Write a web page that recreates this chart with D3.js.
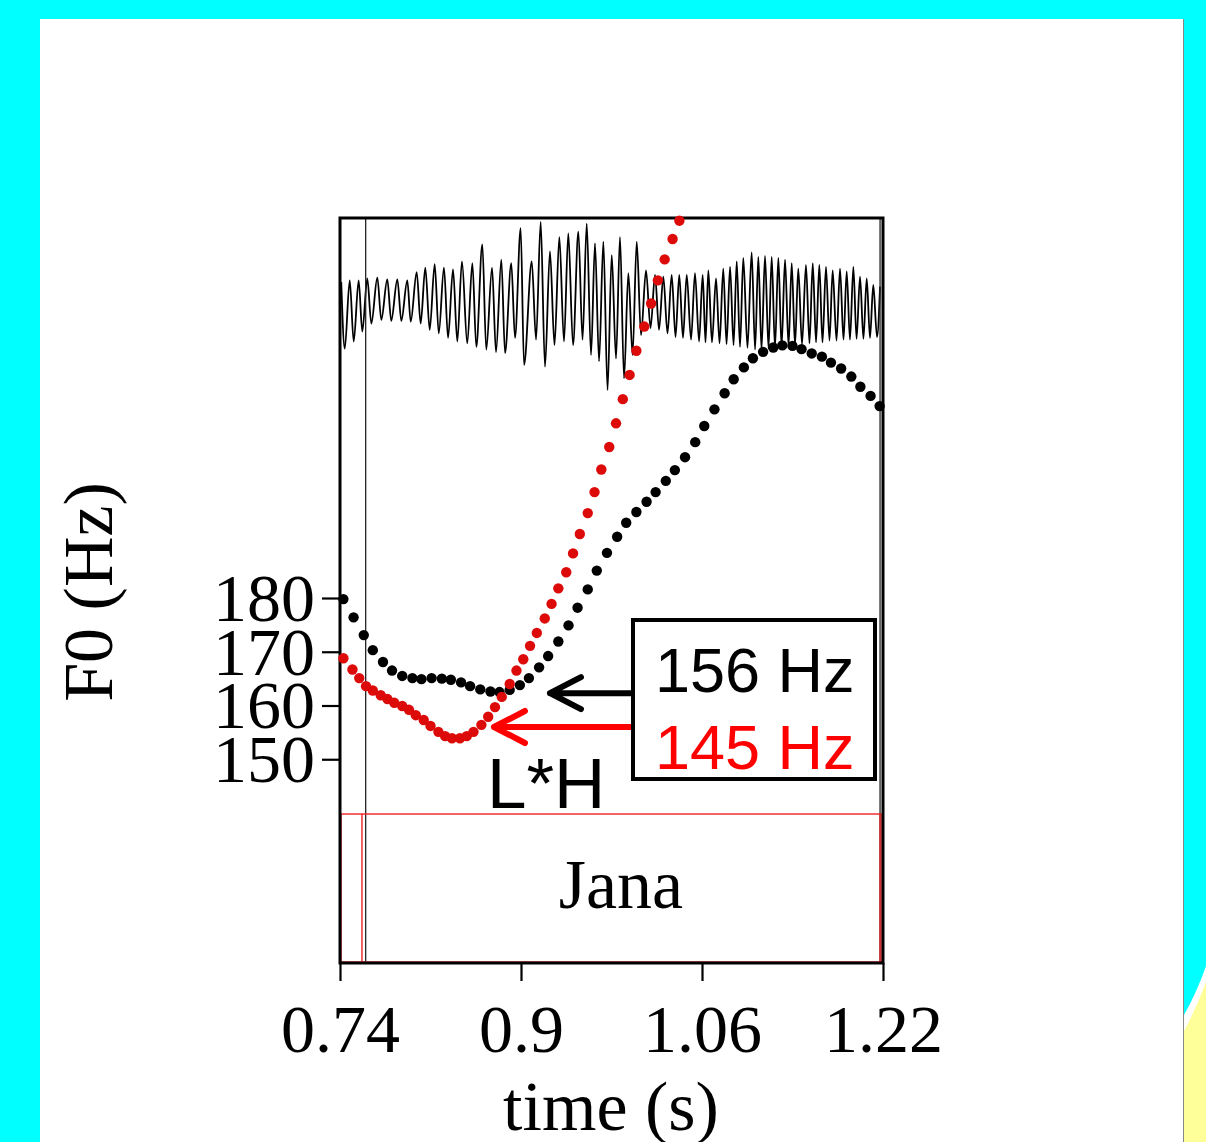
<!DOCTYPE html>
<html>
<head>
<meta charset="utf-8">
<script src="https://cdn.jsdelivr.net/npm/d3@7"></script>
<style>
  body { margin: 0; background: #00ffff; }
  svg { display: block; }
</style>
</head>
<body>
<svg width="1206" height="1142"></svg>
<script>
// pitch track, black contour (time s, F0 Hz)
const blackTimes = [0.743,0.752,0.761,0.769,0.778,0.786,0.795,0.804,0.812,0.821,0.830,0.838,0.847,0.855,0.864,0.873,0.881,0.890,0.899,0.907,0.916,0.924,0.933,0.942,0.950,0.959,0.967,0.976,0.985,0.993,1.002,1.011,1.019,1.028,1.036,1.045,1.054,1.062,1.071,1.080,1.088,1.097,1.105,1.114,1.123,1.131,1.140,1.148,1.157,1.166,1.174,1.183,1.192,1.200,1.209,1.217];
const blackHz = [179.8,176.4,173.1,170.3,168.1,166.5,165.5,165.1,164.9,165.1,165.0,164.8,164.3,163.6,163.0,162.6,162.5,162.9,163.8,165.1,167.1,169.2,171.9,174.9,178.2,181.6,185.1,188.4,191.4,194.0,196.0,197.9,199.7,201.8,203.8,206.2,209.0,212.0,215.1,218.1,220.7,222.9,224.6,225.8,226.6,227.0,226.9,226.3,225.5,224.9,223.8,222.7,221.2,219.3,217.6,215.7];

// pitch track, red contour
const redTimes = [0.743,0.751,0.757,0.763,0.769,0.776,0.782,0.788,0.795,0.801,0.807,0.814,0.820,0.827,0.833,0.839,0.846,0.852,0.858,0.865,0.871,0.877,0.883,0.890,0.896,0.902,0.908,0.914,0.921,0.927,0.933,0.940,0.946,0.952,0.959,0.965,0.971,0.978,0.984,0.990,0.996,1.002,1.009,1.015,1.021,1.027,1.034,1.040];
const redHz = [168.8,166.7,165.1,163.6,162.8,161.9,161.2,160.5,159.9,159.2,158.2,157.3,156.2,155.1,154.3,153.9,153.9,154.3,155.1,156.4,157.9,159.7,161.6,164.0,166.5,168.6,171.1,173.5,176.2,178.9,181.8,184.8,188.3,191.9,195.8,199.7,203.9,208.1,212.5,217.0,221.5,226.0,230.5,234.8,239.1,243.0,246.8,250.2];

// waveform extremes (time s, amplitude)
const waveTimes = [0.7411,0.7442,0.7486,0.7521,0.7565,0.7597,0.7641,0.7677,0.7730,0.7765,0.7818,0.7853,0.7907,0.7942,0.7995,0.8025,0.8078,0.8113,0.8154,0.8193,0.8237,0.8273,0.8319,0.8355,0.8399,0.8437,0.8478,0.8525,0.8570,0.8605,0.8658,0.8693,0.8744,0.8779,0.8826,0.8859,0.8914,0.8947,0.8997,0.9027,0.9095,0.9133,0.9174,0.9212,0.9256,0.9296,0.9339,0.9380,0.9418,0.9460,0.9507,0.9544,0.9581,0.9619,0.9654,0.9690,0.9728,0.9765,0.9802,0.9840,0.9875,0.9911,0.9949,0.9986,1.0023,1.0061,1.0105,1.0145,1.0185,1.0220,1.0258,1.0295,1.0332,1.0366,1.0399,1.0432,1.0465,1.0503,1.0538,1.0574,1.0606,1.0631,1.0656,1.0688,1.0724,1.0755,1.0788,1.0817,1.0848,1.0879,1.0907,1.0936,1.0965,1.1002,1.1039,1.1069,1.1098,1.1126,1.1157,1.1188,1.1216,1.1245,1.1275,1.1303,1.1334,1.1365,1.1393,1.1422,1.1451,1.1484,1.1519,1.1550,1.1579,1.1608,1.1637,1.1665,1.1696,1.1727,1.1755,1.1789,1.1820,1.1851,1.1879,1.1908,1.1938,1.1966,1.1997,1.2027,1.2056,1.2085,1.2114,1.2147,1.2174];
const waveAmps = [0.31,-0.43,0.33,-0.35,0.33,-0.24,0.35,-0.15,0.36,-0.11,0.34,-0.12,0.34,-0.12,0.33,-0.13,0.42,-0.15,0.47,-0.22,0.51,-0.26,0.47,-0.31,0.45,-0.35,0.54,-0.37,0.52,-0.41,0.73,-0.44,0.47,-0.47,0.56,-0.48,0.52,-0.31,0.91,-0.61,0.54,-0.33,0.98,-0.63,0.65,-0.39,0.81,-0.35,0.85,-0.39,0.87,-0.33,0.96,-0.50,0.74,-0.57,0.76,-0.89,0.61,-0.54,0.81,-0.76,0.41,-0.50,0.76,-0.28,0.44,-0.20,0.39,-0.22,0.37,-0.26,0.39,-0.30,0.39,-0.31,0.39,-0.33,0.41,-0.35,0.39,-0.36,0.44,-0.36,0.35,-0.37,0.46,-0.38,0.48,-0.39,0.54,-0.41,0.58,-0.42,0.64,-0.44,0.59,-0.44,0.60,-0.43,0.59,-0.42,0.58,-0.41,0.56,-0.40,0.52,-0.39,0.46,-0.38,0.50,-0.37,0.52,-0.36,0.50,-0.36,0.48,-0.34,0.44,-0.34,0.46,-0.33,0.43,-0.33,0.48,-0.32,0.37,-0.32,0.35,-0.31,0.28,-0.30,0.26];

// textgrid tier
const tierBounds = [0.7594, 1.2174];
const tierLabels = ["Jana"];
const markTimes = [0.7627, 1.2174];

const xTicks = [0.74, 0.9, 1.06, 1.22];
const yTicks = [150, 160, 170, 180];

// annotation: box values and arrow targets
const boxLabels = ["156 Hz", "145 Hz"];
const arrowHz = [162.3, 156.0];
const arrowTipTimes = [0.9256, 0.8761];
const boxTime = 0.999;

const svg = d3.select("svg");

// white sheet + corner decoration
svg.append("rect").attr("x", 40).attr("y", 19).attr("width", 1143).attr("height", 1123).attr("fill", "#fff");
svg.append("path").attr("d", "M1184,1015 Q1197,992 1206,966 L1206,1142 L1184,1142 Z").attr("fill", "#fff");
svg.append("path").attr("d", "M1184,1031 Q1197,1007 1206,982 L1206,1142 L1184,1142 Z").attr("fill", "#ffff99");
svg.append("line").attr("x1", 1183.5).attr("x2", 1183.5).attr("y1", 19).attr("y2", 1142).attr("stroke", "#888").attr("stroke-width", 1);

const plotLeft = 340, plotTop = 218, W = 543, H = 745, pitchH = 595;
const g = svg.append("g").attr("transform", `translate(${plotLeft},${plotTop})`);

const x = d3.scaleLinear().domain([0.74, 1.22]).range([0, W]);
const y = d3.scaleLinear().domain([140, 250.7]).range([pitchH, 0]);
const yWave = d3.scaleLinear().domain([-1, 1]).range([182, 2]);

const serif = "'Liberation Serif', 'Times New Roman', serif";
const sans = "'Liberation Sans', Arial, sans-serif";

// waveform
const wave = waveTimes.map((t, i) => ({t, a: waveAmps[i]}));
g.append("path")
    .datum(wave)
    .attr("fill", "none")
    .attr("stroke", "#000")
    .attr("stroke-width", 1.8)
    .attr("stroke-linejoin", "bevel")
    .attr("d", d3.line().x(d => x(d.t)).y(d => yWave(d.a)).curve(d3.curveMonotoneX));

// vertical marks
g.selectAll(".mark")
    .data(markTimes)
    .join("line")
    .attr("x1", d => x(d)).attr("x2", d => x(d))
    .attr("y1", 0).attr("y2", H)
    .attr("stroke", "#222")
    .attr("stroke-width", 1.3);

// textgrid tier
g.append("rect")
    .attr("x", 1).attr("y", pitchH + 1)
    .attr("width", W - 2).attr("height", H - pitchH - 2)
    .attr("fill", "none").attr("stroke", "#e22").attr("stroke-width", 1.4);
g.selectAll(".bound")
    .data(tierBounds)
    .join("line")
    .attr("x1", d => x(d)).attr("x2", d => x(d))
    .attr("y1", pitchH + 1).attr("y2", H - 1)
    .attr("stroke", "#e22").attr("stroke-width", 1.4);
g.selectAll(".tier-label")
    .data(tierLabels)
    .join("text")
    .attr("x", (d, i) => (x(tierBounds[i]) + x(tierBounds[i + 1])) / 2)
    .attr("y", 690)
    .attr("text-anchor", "middle")
    .style("font-family", serif)
    .style("font-size", "70px")
    .text(d => d);

// frame
g.append("rect")
    .attr("width", W).attr("height", H)
    .attr("fill", "none").attr("stroke", "#000").attr("stroke-width", 3);

// pitch dots
const black = blackTimes.map((t, i) => ({t, hz: blackHz[i]}));
const red = redTimes.map((t, i) => ({t, hz: redHz[i]}));
g.append("g").selectAll("circle")
    .data(black).join("circle")
    .attr("cx", d => x(d.t)).attr("cy", d => y(d.hz)).attr("r", 5.2)
    .attr("fill", "#000");
g.append("g").selectAll("circle")
    .data(red).join("circle")
    .attr("cx", d => x(d.t)).attr("cy", d => y(d.hz)).attr("r", 5.2)
    .attr("fill", "#dd0a0a");

// axes
const xAxis = g.append("g")
    .attr("transform", `translate(0,${H})`)
    .call(d3.axisBottom(x).tickValues(xTicks).tickSize(18).tickFormat(d => String(d)));
xAxis.select(".domain").remove();
xAxis.selectAll("line").attr("stroke-width", 2.2);
xAxis.selectAll("text")
    .attr("y", 89).attr("dy", 0)
    .style("font-family", serif).style("font-size", "68px").attr("fill", "#000");

const yAxis = g.append("g")
    .call(d3.axisLeft(y).tickValues(yTicks).tickSize(18).tickPadding(7));
yAxis.select(".domain").remove();
yAxis.selectAll("line").attr("stroke-width", 2.2);
yAxis.selectAll("text")
    .attr("dy", "0.33em")
    .style("font-family", serif).style("font-size", "68px").attr("fill", "#000");

// axis titles
svg.append("text")
    .attr("transform", "translate(112,592) rotate(-90)")
    .attr("text-anchor", "middle")
    .style("font-family", serif).style("font-size", "70px")
    .text("F0 (Hz)");
svg.append("text")
    .attr("x", 611).attr("y", 1130)
    .attr("text-anchor", "middle")
    .style("font-family", serif).style("font-size", "70px")
    .text("time (s)");

// annotation arrows
const arrowColors = ["#000", "#ff0000"];
arrowHz.forEach((hz, i) => {
    const ay = y(hz), tip = x(arrowTipTimes[i]), tail = x(boxTime);
    g.append("path")
        .attr("d", `M${tail},${ay} L${tip},${ay} M${tip + 31},${ay - 16} L${tip},${ay} L${tip + 31},${ay + 16}`)
        .attr("fill", "none")
        .attr("stroke", arrowColors[i])
        .attr("stroke-width", 6)
        .attr("stroke-linecap", "round")
        .attr("stroke-linejoin", "round");
});

// value box
g.append("rect")
    .attr("x", x(boxTime)).attr("y", 402)
    .attr("width", 242).attr("height", 159)
    .attr("fill", "#fff").attr("stroke", "#000").attr("stroke-width", 4);
g.selectAll(".box-label")
    .data(boxLabels)
    .join("text")
    .attr("x", x(boxTime) + 22)
    .attr("y", (d, i) => 474 + i * 77)
    .attr("fill", (d, i) => arrowColors[i])
    .style("font-family", sans).style("font-size", "63px")
    .text(d => d);

// tone label
g.append("text")
    .attr("x", 147).attr("y", 590)
    .style("font-family", sans).style("font-size", "71px")
    .text("L*H");
</script>
</body>
</html>
